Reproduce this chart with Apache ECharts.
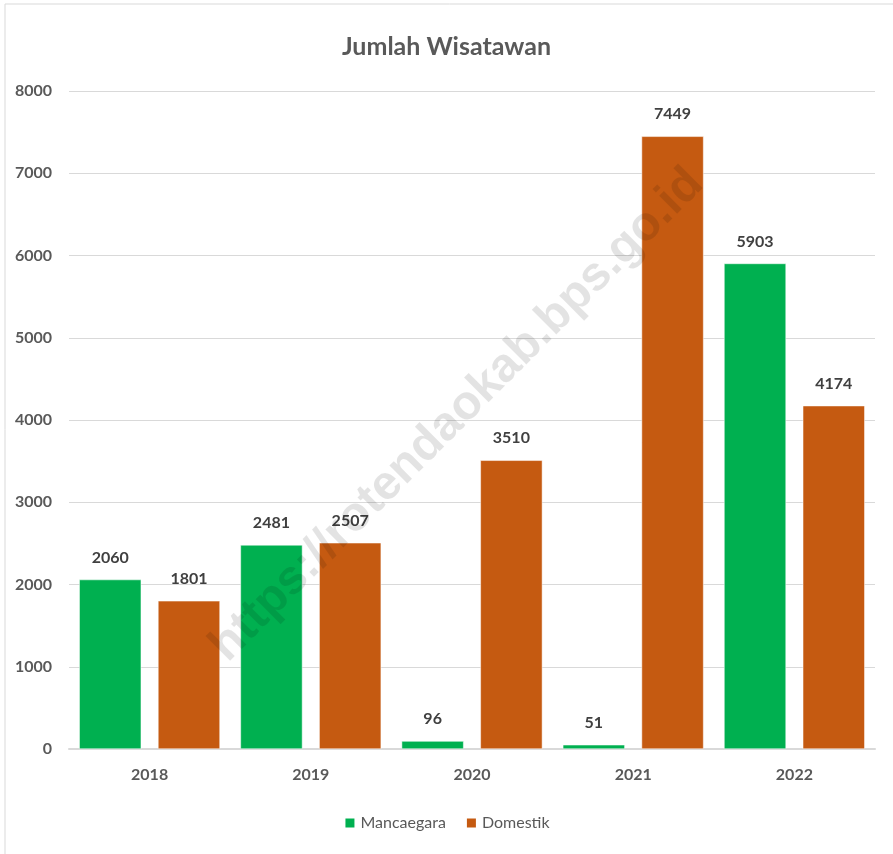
<!DOCTYPE html>
<html>
<head>
<meta charset="utf-8">
<script src="https://cdn.jsdelivr.net/npm/echarts@6/dist/echarts.min.js"></script>
<style>
  html, body { margin: 0; padding: 0; background: #fff; }
  #chart { width: 893px; height: 854px; }
</style>
</head>
<body>
<div id="chart"></div>
<script>
const years = ['2018', '2019', '2020', '2021', '2022'];
const mancanegara = [2060, 2481, 96, 51, 5903];
const domestik = [1801, 2507, 3510, 7449, 4174];
const yTicks = { min: 0, max: 8000, interval: 1000 };

const chart = echarts.init(document.getElementById('chart'));

const labelStyle = {
  show: true,
  position: 'top',
  distance: 14,
  color: '#404040',
  fontFamily: 'Lato',
  fontWeight: 'bold',
  fontSize: 16
};

chart.setOption({
  animation: false,
  backgroundColor: '#fff',
  title: {
    text: 'Jumlah Wisatawan',
    left: 'center',
    top: 29,
    textStyle: { color: '#595959', fontFamily: 'Lato', fontWeight: 'bold', fontSize: 25 }
  },
  graphic: [
    {
      type: 'rect',
      shape: { x: 5, y: 4, width: 1000, height: 1000 },
      style: { fill: 'none', stroke: '#d9d9d9', lineWidth: 1 },
      silent: true
    },
    {
      // watermark
      type: 'text',
      x: 457,
      y: 415,
      rotation: Math.PI / 4,
      z: 100,
      style: {
        text: 'https://rotendaokab.bps.go.id',
        fill: 'rgba(0,0,0,0.11)',
        font: 'bold 48px "Liberation Sans", Arial, sans-serif',
        align: 'center',
        verticalAlign: 'middle'
      },
      silent: true
    }
  ],
  legend: {
    bottom: 18,
    left: 'center',
    itemWidth: 11,
    itemHeight: 11,
    itemGap: 19,
    icon: 'rect',
    textStyle: { color: '#595959', fontFamily: 'Lato', fontSize: 16 },
    data: ['Mancaegara', 'Domestik']
  },
  grid: { left: 69, right: 18, top: 91, bottom: 105, containLabel: false },
  xAxis: {
    type: 'category',
    data: years,
    axisLine: { lineStyle: { color: '#d9d9d9', width: 2 } },
    axisTick: { show: false },
    axisLabel: { color: '#595959', fontFamily: 'Lato', fontWeight: 'bold', fontSize: 16, margin: 18 }
  },
  yAxis: {
    type: 'value',
    min: yTicks.min,
    max: yTicks.max,
    interval: yTicks.interval,
    axisLine: { show: false },
    axisTick: { show: false },
    splitLine: { lineStyle: { color: '#d9d9d9', width: 1 } },
    axisLabel: {
      color: '#595959', fontFamily: 'Lato', fontWeight: 'bold', fontSize: 16, margin: 17,
      formatter: (v) => String(v)
    }
  },
  series: [
    {
      name: 'Mancaegara',
      type: 'bar',
      data: mancanegara,
      barWidth: 62,
      barGap: '27%',
      itemStyle: { color: '#00b050', borderColor: '#fff', borderWidth: 0.5 },
      label: labelStyle
    },
    {
      name: 'Domestik',
      type: 'bar',
      data: domestik,
      barWidth: 62,
      itemStyle: { color: '#c55a11', borderColor: '#fff', borderWidth: 0.5 },
      label: labelStyle
    }
  ]
});
</script>
</body>
</html>
